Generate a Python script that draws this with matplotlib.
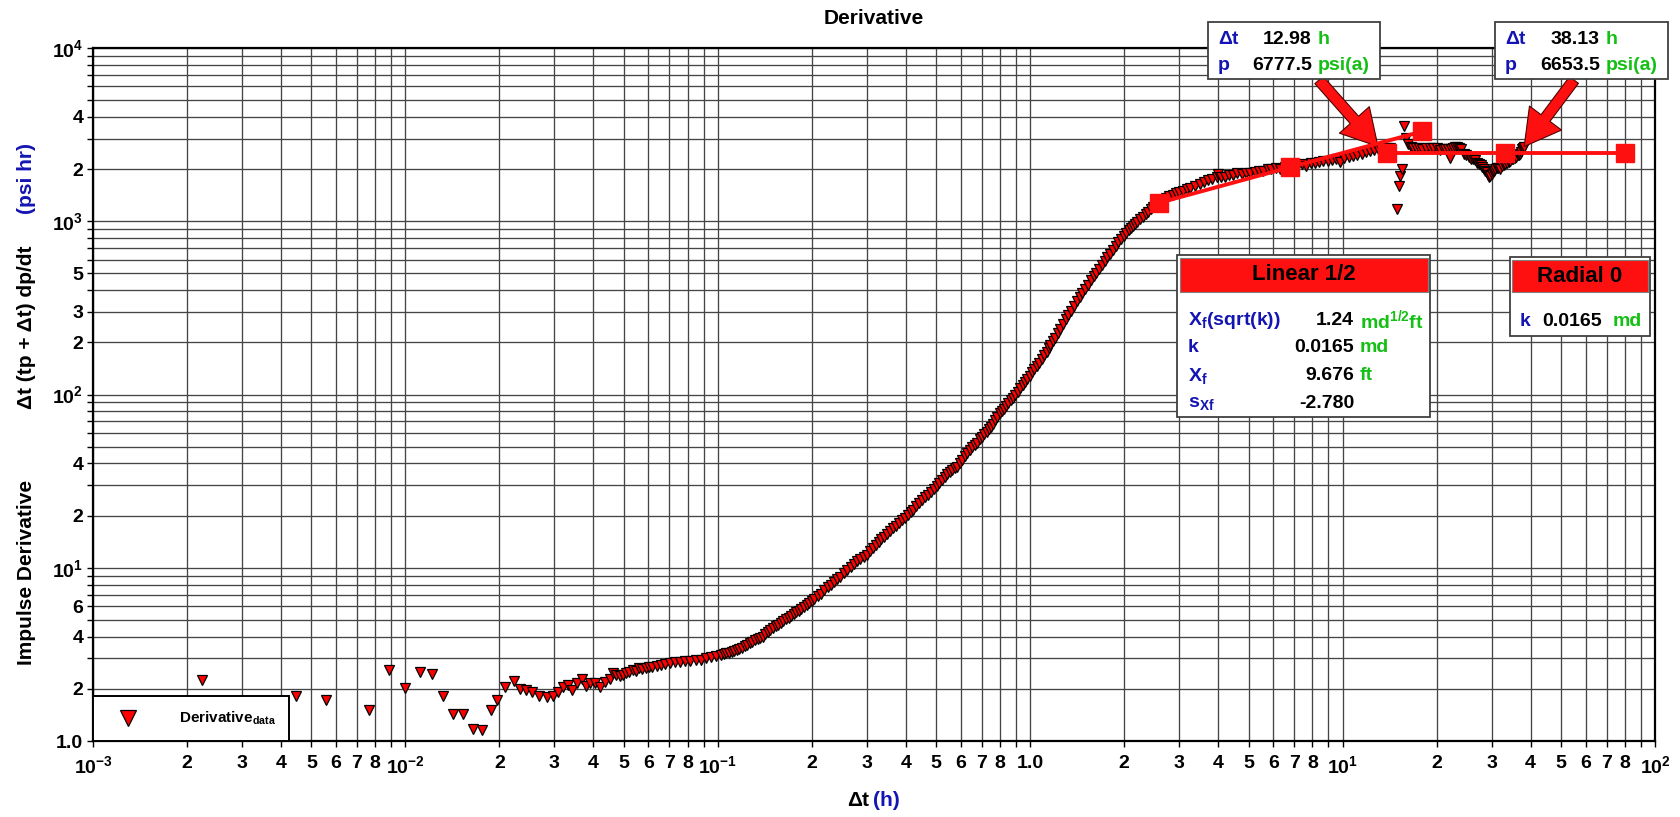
import matplotlib
matplotlib.use("Agg")
import matplotlib.pyplot as plt
from matplotlib.patches import Rectangle
from matplotlib.ticker import FixedLocator, FixedFormatter

plt.rcParams['font.family'] = ['Liberation Sans', 'DejaVu Sans']
plt.rcParams['font.weight'] = 'bold'
plt.rcParams['mathtext.fontset'] = 'custom'
plt.rcParams['mathtext.rm'] = 'Liberation Sans:bold'
plt.rcParams['mathtext.bf'] = 'Liberation Sans:bold'
plt.rcParams['mathtext.it'] = 'Liberation Sans:bold'
plt.rcParams['mathtext.default'] = 'bf'

# --- data (delta t in h, derivative in psi hr) -----------------------------
# early, noisy part
t_early = [0.00223, 0.00445, 0.00557, 0.00764, 0.00888, 0.00998, 0.0111, 0.01213,
           0.0132, 0.01422, 0.0153, 0.01648, 0.01753, 0.01883, 0.0197,
           0.0208, 0.0222, 0.0233, 0.0243, 0.0255, 0.0268, 0.0283, 0.0297, 0.0308,
           0.0320, 0.0332, 0.0341, 0.0354, 0.0367, 0.0379, 0.0390, 0.0404, 0.0419,
           0.0435, 0.0451, 0.0462, 0.0473, 0.0485, 0.0497, 0.0509, 0.0521, 0.0534,
           0.0547, 0.0560, 0.0574, 0.0588, 0.0602, 0.0617, 0.0637, 0.0658, 0.0680,
           0.0701, 0.0728, 0.0757, 0.0787, 0.0817, 0.0849, 0.0881, 0.0915, 0.0951,
           0.0988]
p_early = [2.25, 1.82, 1.73, 1.51, 2.57, 2.03, 2.50, 2.43,
           1.82, 1.43, 1.43, 1.18, 1.16, 1.51, 1.72,
           2.04, 2.22, 1.99, 1.97, 1.93, 1.83, 1.79, 1.83, 1.93,
           2.04, 2.11, 1.97, 2.15, 2.27, 2.08, 2.17, 2.15, 2.04,
           2.20, 2.27, 2.46, 2.40, 2.38, 2.42, 2.46, 2.50, 2.57,
           2.55, 2.63, 2.60, 2.63, 2.66, 2.69, 2.70, 2.75, 2.78,
           2.83, 2.84, 2.87, 2.88, 2.90, 2.92, 2.94, 3.00, 3.07,
           3.10]
# rise
t_rise = [0.1026, 0.1046, 0.1066, 0.1086, 0.1107, 0.1128, 0.1150, 0.1172, 0.1195,
          0.1218, 0.1242, 0.1266, 0.1290, 0.1315, 0.1340, 0.1366, 0.1392, 0.1419,
          0.1446, 0.1474, 0.1502, 0.1531, 0.1560, 0.1590, 0.1621, 0.1652, 0.1684,
          0.1716, 0.1749, 0.1783, 0.1817, 0.1852, 0.1887, 0.1923, 0.1960, 0.1998,
          0.2037, 0.2090, 0.2140, 0.2195, 0.2250, 0.2305, 0.2360, 0.2410, 0.2468,
          0.2530, 0.2600, 0.2665, 0.2730, 0.2795, 0.2860, 0.2930, 0.2996, 0.3060,
          0.3130, 0.3200, 0.3270, 0.3340, 0.3410, 0.3485, 0.3560, 0.3640, 0.3720,
          0.3800, 0.3890, 0.3970, 0.4050, 0.4140, 0.4229, 0.4320, 0.4420, 0.4515,
          0.4610, 0.4710, 0.4810, 0.4915, 0.5023, 0.5120, 0.5220, 0.5320, 0.5420,
          0.5520, 0.5620, 0.5725, 0.5833, 0.5940, 0.6050, 0.6165, 0.6280, 0.6400,
          0.6520, 0.6645, 0.6775, 0.6890, 0.7000, 0.7125, 0.7250, 0.7365, 0.7480,
          0.7590, 0.7700, 0.7850, 0.8000, 0.8130, 0.8255, 0.8375, 0.8500, 0.8650,
          0.8800, 0.8960, 0.9117, 0.9280, 0.9450, 0.9620, 0.9800, 0.9975]
p_rise = [3.14, 3.17, 3.20, 3.24, 3.28, 3.32, 3.36, 3.41, 3.46,
          3.53, 3.60, 3.67, 3.75, 3.81, 3.88, 3.94, 4.00, 4.12,
          4.25, 4.36, 4.48, 4.59, 4.70, 4.81, 4.92, 5.03, 5.15,
          5.27, 5.40, 5.52, 5.65, 5.77, 5.90, 6.07, 6.25, 6.42,
          6.60, 6.85, 7.10, 7.40, 7.70, 8.00, 8.30, 8.60, 8.90,
          9.30, 9.70, 10.1, 10.5, 10.9, 11.2, 11.6, 11.9, 12.5,
          13.0, 13.5, 14.0, 14.6, 15.1, 15.6, 16.2, 16.9, 17.5,
          18.2, 18.9, 19.5, 20.2, 20.9, 21.6, 22.6, 23.5, 24.5,
          25.5, 26.4, 27.4, 28.4, 29.5, 30.8, 32.0, 33.4, 34.8,
          35.6, 36.5, 37.4, 38.3, 40.0, 42.0, 44.0, 46.0, 47.8,
          49.5, 51.0, 52.7, 55.0, 57.0, 59.0, 61.0, 63.0, 65.0,
          68.0, 71.0, 74.5, 78.0, 80.5, 83.0, 86.0, 89.0, 92.5,
          96.0, 100.0, 104.0, 108.5, 113.0, 118.0, 123.0, 128.5]
# steep part and knee
t_knee = [1.015, 1.032, 1.050, 1.070, 1.090, 1.110, 1.130, 1.145, 1.160, 1.180,
          1.200, 1.225, 1.250, 1.275, 1.300, 1.325, 1.350, 1.380, 1.410, 1.440,
          1.470, 1.500, 1.530, 1.565, 1.600, 1.630, 1.660, 1.695, 1.730, 1.765,
          1.800, 1.840, 1.880, 1.915, 1.950, 1.990, 2.030, 2.065, 2.100, 2.130,
          2.160, 2.205, 2.250, 2.295, 2.340, 2.385, 2.430, 2.475, 2.520, 2.585,
          2.650, 2.720, 2.790, 2.860, 2.930, 3.005, 3.080, 3.165, 3.250, 3.370,
          3.490]
p_knee = [134, 140, 146, 153, 160, 168, 176, 185, 194, 203,
          213, 226, 240, 255, 271, 288, 305, 325, 345, 366,
          387, 408, 430, 455, 480, 504, 528, 559, 590, 620,
          650, 685, 720, 755, 790, 826, 861, 888, 915, 938,
          961, 995, 1030, 1063, 1097, 1133, 1170, 1212, 1254, 1290,
          1325, 1362, 1400, 1425, 1450, 1473, 1497, 1528, 1560, 1605,
          1650]
# late plateau with the jump near 15 h
t_late = [3.600, 3.700, 3.820, 3.950, 4.000, 4.080, 4.200, 4.330, 4.470, 4.600,
          4.750, 4.900, 5.070, 5.230, 5.400, 5.570, 5.750, 5.920, 6.100, 6.300,
          6.530, 6.740, 6.950, 7.180, 7.410, 7.650, 7.900, 8.150, 8.400, 8.670,
          8.950, 9.240, 9.530, 9.800, 10.10, 10.45, 10.80, 11.15, 11.50, 11.90,
          12.27, 12.60, 12.98, 13.30, 13.60, 13.90, 14.20,
          14.90, 15.10, 15.30, 15.50, 15.70,
          16.00, 16.25, 16.50, 16.85, 17.20, 17.60, 18.00, 18.50, 19.00, 19.50,
          20.00, 20.50, 20.90, 21.30, 21.70, 22.10, 22.30, 22.60, 22.90, 23.20,
          23.60, 24.00, 24.40, 24.80, 25.30, 25.80, 26.10, 26.50, 27.00, 27.30,
          27.70, 28.00, 28.30, 28.60, 29.00, 29.20, 29.40, 29.70, 30.00, 30.20,
          30.50, 30.80, 31.20, 31.50, 32.00, 32.40, 32.80, 33.20, 33.60, 34.00,
          34.40, 34.80, 35.20, 35.60, 36.00, 36.30, 36.70, 37.00, 37.30, 37.60,
          37.90, 38.10]
p_late = [1690, 1720, 1760, 1800, 1880, 1790, 1810, 1840, 1850, 1900,
          1880, 1890, 1910, 1930, 1950, 1960, 1990, 2010, 2020, 2000,
          2050, 2070, 2090, 2110, 2135, 2080, 2160, 2170, 2190, 2215,
          2240, 2255, 2280, 2200, 2330, 2350, 2390, 2420, 2460, 2500,
          2550, 2570, 2600, 2620, 2640, 2660, 2660,
          1170, 1590, 1830, 2000, 3550,
          3040, 2800, 2690, 2660, 2640, 2630, 2620, 2630, 2640, 2650,
          2630, 2590, 2610, 2600, 2620, 2330, 2620, 2650, 2680, 2700,
          2650, 2600, 2430, 2400, 2350, 2300, 2280, 2250, 2182, 2140,
          2100, 2050, 2000, 1950, 1913, 1850, 1790, 1820, 1880, 1930,
          1960, 2000, 2020, 2040, 2010, 2090, 2120, 2150, 2180, 2200,
          2240, 2280, 2300, 2330, 2360, 2400, 2420, 2450, 2520, 2600,
          2650, 2700]

dt = t_early + t_rise + t_knee + t_late
deriv = p_early + p_rise + p_knee + p_late

# straight-line models (squares are the line handles)
lin_t = [2.58, 6.79, 18.0]
lin_p = [1276, 2051, 3300]
rad_t = [13.85, 33.2, 80.4]
rad_p = [2472, 2472, 2472]

# cursor read-outs
cur_t = [12.98, 38.13]
cur_p = [6777.5, 6653.5]
cur_deriv = [2700, 2700]

x_major = [1e-3, 1e-2, 1e-1, 1.0, 1e1, 1e2]
x_major_lbl = ['$10^{-3}$', '$10^{-2}$', '$10^{-1}$', '1.0', '$10^{1}$', '$10^{2}$']
y_major = [1.0, 1e1, 1e2, 1e3, 1e4]
y_major_lbl = ['1.0', '$10^{1}$', '$10^{2}$', '$10^{3}$', '$10^{4}$']
y_minor_shown = [[2, 4, 6], [2, 4], [2, 3, 5], [2, 4]]

RED = '#ff1010'
BLUE = '#1414b4'
GREEN = '#14c014'

W, H = 1680, 817
fig = plt.figure(figsize=(W / 100, H / 100), dpi=100)
ax = fig.add_axes([93 / W, 76 / H, 1562 / W, 693 / H])


def px(x, y):
    return (x / W, 1 - y / H)


ax.set_xscale('log')
ax.set_yscale('log')
ax.set_xlim(1e-3, 1e2)
ax.set_ylim(1.0, 1e4)

ax.plot(lin_t, lin_p, '-s', color=RED, lw=2.8, ms=13, zorder=4)
ax.plot(rad_t, rad_p, '-s', color=RED, lw=2.8, ms=13, zorder=4)
ax.plot(dt, deriv, 'v', ls='none', ms=7, mfc='red', mec='black', mew=0.9,
        zorder=3, label='Derivative$_{data}$')

# ticks
x_minor, x_minor_lbl = [], []
for k in range(-3, 2):
    for m in range(2, 10):
        x_minor.append(m * 10.0 ** k)
        x_minor_lbl.append(str(m) if m < 9 else '')
y_minor, y_minor_lbl = [], []
for k, shown in enumerate(y_minor_shown):
    for m in range(2, 10):
        y_minor.append(m * 10.0 ** k)
        y_minor_lbl.append(str(m) if m in shown else '')

ax.xaxis.set_major_locator(FixedLocator(x_major))
ax.xaxis.set_major_formatter(FixedFormatter(x_major_lbl))
ax.xaxis.set_minor_locator(FixedLocator(x_minor))
ax.xaxis.set_minor_formatter(FixedFormatter(x_minor_lbl))
ax.yaxis.set_major_locator(FixedLocator(y_major))
ax.yaxis.set_major_formatter(FixedFormatter(y_major_lbl))
ax.yaxis.set_minor_locator(FixedLocator(y_minor))
ax.yaxis.set_minor_formatter(FixedFormatter(y_minor_lbl))
ax.tick_params(which='both', direction='out', length=4, width=1, labelsize=14)
ax.tick_params(axis='x', which='both', pad=6)
ax.tick_params(axis='y', which='both', pad=3)

ax.grid(which='both', color='#454545', lw=0.95)
for s in ax.spines.values():
    s.set_linewidth(1.6)

leg = ax.legend(loc='lower left', bbox_to_anchor=(0, 0), borderaxespad=0,
                fancybox=False, edgecolor='black', framealpha=1, numpoints=1,
                markerscale=1.7, handlelength=2.8, handletextpad=1.9,
                borderpad=0.9, prop={'size': 11, 'weight': 'bold'})
leg.get_frame().set_linewidth(1.4)

# arrows from the cursor boxes
arrow_kw = dict(arrowstyle='simple,head_length=1.6,head_width=1.8,tail_width=0.5',
                fc=RED, ec='#500000', lw=0.8, mutation_scale=16, shrinkA=0, shrinkB=0)
for t, p, sx in zip(cur_t, cur_deriv, [1319, 1574]):
    ax.annotate('', xy=(t, p), xycoords='data', xytext=px(sx, 80),
                textcoords='figure fraction', arrowprops=arrow_kw,
                annotation_clip=False)


def box(x0, y0, x1, y1, fc='white', ec='#404040', lw=1.3):
    r = Rectangle(px(x0, y1), (x1 - x0) / W, (y1 - y0) / H, transform=fig.transFigure,
                  fc=fc, ec=ec, lw=lw, zorder=5)
    fig.add_artist(r)


def txt(x, y, s, color='black', ha='left', size=14, **kw):
    fig.text(*px(x, y), s, color=color, ha=ha, va='center', fontsize=size,
             fontweight='bold', zorder=6, **kw)


# cursor boxes
for (x0, x1, vr, ul), t, p in zip([(1208, 1380, 1312, 1318), (1495, 1668, 1600, 1606)],
                                  cur_t, cur_p):
    box(x0, 22, x1, 79)
    txt(x0 + 10, 39, '\u0394t', BLUE)
    txt(vr, 39, '%.2f' % t, ha='right')
    txt(ul, 39, 'h', GREEN)
    txt(x0 + 10, 66, 'p', BLUE)
    txt(vr, 66, '%.1f' % p, ha='right')
    txt(ul, 66, 'psi(a)', GREEN)

# Linear 1/2 box
box(1177, 255, 1430, 417)
box(1180, 258, 1428, 292, fc=RED, ec='#808080', lw=0.8)
txt(1304, 275, 'Linear 1/2', ha='center', size=16)
rows = [('X$_{f}$(sqrt(k))', '1.24', 'md$^{1/2}$ft'),
        ('k', '0.0165', 'md'),
        ('X$_{f}$', '9.676', 'ft'),
        ('s$_{Xf}$', '-2.780', '')]
for (lab, val, unit), y in zip(rows, [320, 348, 376, 403]):
    txt(1188, y, lab, BLUE)
    txt(1354, y, val, ha='right')
    if unit:
        txt(1360, y, unit, GREEN)

# Radial 0 box
box(1510, 257, 1650, 336)
box(1512, 260, 1648, 292, fc=RED, ec='#808080', lw=0.8)
txt(1580, 276, 'Radial 0', ha='center', size=16)
txt(1520, 322, 'k', BLUE)
txt(1542, 322, '0.0165', 'black')
txt(1613, 322, 'md', GREEN)

# titles and axis labels
txt(874, 19, 'Derivative', ha='center', size=15)
txt(869, 801, '\u0394t', ha='right', size=15)
txt(873, 801, '(h)', BLUE, size=15)
txt(27, 572, 'Impulse Derivative', ha='center', size=15, rotation=90)
txt(27, 327, '\u0394t (tp + \u0394t) dp/dt', ha='center', size=15, rotation=90)
txt(27, 179, '(psi hr)', BLUE, ha='center', size=15, rotation=90)

fig.savefig('out.png', dpi=100)
